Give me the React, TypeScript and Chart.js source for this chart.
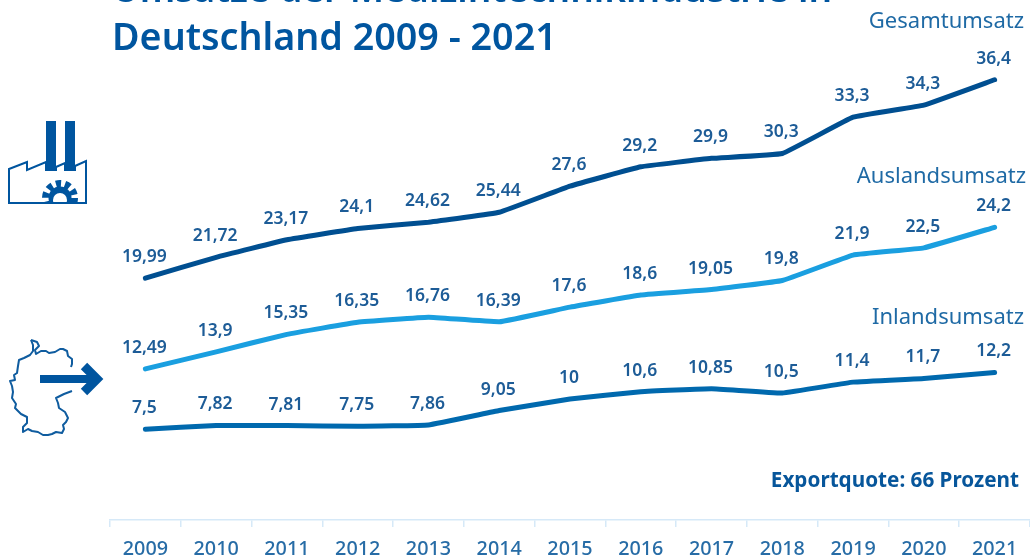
import React, { useEffect, useRef } from "react";
import { Chart, registerables } from "chart.js";

Chart.register(...registerables);

const years = ["2009", "2010", "2011", "2012", "2013", "2014", "2015", "2016", "2017", "2018", "2019", "2020", "2021"];
const gesamtumsatz = [19.99, 21.72, 23.17, 24.1, 24.62, 25.44, 27.6, 29.2, 29.9, 30.3, 33.3, 34.3, 36.4];
const auslandsumsatz = [12.49, 13.9, 15.35, 16.35, 16.76, 16.39, 17.6, 18.6, 19.05, 19.8, 21.9, 22.5, 24.2];
const inlandsumsatz = [7.5, 7.82, 7.81, 7.75, 7.86, 9.05, 10, 10.6, 10.85, 10.5, 11.4, 11.7, 12.2];

const titleLines = ["Umsätze der Medizintechnikindustrie in", "Deutschland 2009 - 2021"];
const exportNote = "Exportquote: 66 Prozent";

const NAVY = "#004f91";
const SKY = "#1a9fe0";
const MID = "#0069ae";
const TEXT = "#1d5c97";
const TITLE = "#00559f";
const FONT = "'Noto Sans', 'Open Sans', sans-serif";

const formatValue = (v: number) => String(v).replace(".", ",");

// Series names, the heading and the export note are painted on the canvas with the value labels.
const annotations = {
  id: "annotations",
  afterDatasetsDraw(chart: any) {
    const { ctx } = chart;
    ctx.save();
    ctx.textBaseline = "middle";

    ctx.textAlign = "center";
    ctx.fillStyle = TEXT;
    ctx.font = `600 17.5px ${FONT}`;
    chart.data.datasets.forEach((ds: any, i: number) => {
      chart.getDatasetMeta(i).data.forEach((pt: any, j: number) => {
        ctx.fillText(formatValue(ds.data[j]), pt.x - 1, pt.y - 21);
      });
    });

    ctx.textAlign = "right";
    ctx.font = `400 22px ${FONT}`;
    ctx.fillStyle = "#1f6aa5";
    ctx.fillText("Gesamtumsatz", 1024, 22);
    ctx.fillText("Auslandsumsatz", 1026, 177);
    ctx.fillText("Inlandsumsatz", 1024, 318);

    ctx.font = `700 20.7px ${FONT}`;
    ctx.fillStyle = "#07569b";
    ctx.fillText(exportNote, 1019, 481);

    ctx.textAlign = "left";
    ctx.fillStyle = TITLE;
    ctx.font = `600 37px ${FONT}`;
    ctx.fillText(titleLines[0], 112, -9);
    ctx.font = `600 37.7px ${FONT}`;
    ctx.fillText(titleLines[1], 112, 39);
    ctx.restore();
  },
};

// Hand-traced border of Germany, open on the eastern side where the arrow leaves the map.
const germanyNorth =
  "M31,340 L37,342 L39,346 L35,350 L36,354 L41,351 L46,351 L49,353 L55,352 L60,349 L63,349 L67,351 L68,356 L72,359 L72,364 L71,367";
const germanyRest =
  "M72,391 L64,394 L56,398 L58,403 L59,408 L65,412 L68,418 L66,422 L63,425 L64,429 L62,433 L56,432 L52,434 L48,435 L43,435 L38,432 L32,431 L28,429 L23,432 L23,427 L27,423 L27,417 L21,414 L15,408 L16,404 L12,398 L13,392 L12,386 L10,381 L15,380 L14,375 L17,373 L18,366 L19,360 L24,358 L30,355 L33,351 L33,345 L31,340";

export default function App() {
  const ref = useRef<HTMLCanvasElement>(null);

  useEffect(() => {
    const line = (label: string, data: number[], color: string) => ({
      label,
      data,
      borderColor: color,
      borderWidth: 5,
      borderCapStyle: "round" as const,
      borderJoinStyle: "round" as const,
      tension: 0.08,
      pointRadius: 0,
      clip: false,
    });

    const chart = new Chart(ref.current!, {
      type: "line",
      data: {
        labels: years,
        datasets: [
          line("Gesamtumsatz", gesamtumsatz, NAVY),
          line("Auslandsumsatz", auslandsumsatz, SKY),
          line("Inlandsumsatz", inlandsumsatz, MID),
        ],
      },
      options: {
        animation: false,
        responsive: false,
        layout: { padding: { left: 110, top: 12, right: 0, bottom: 0 } },
        plugins: { legend: { display: false }, tooltip: { enabled: false } },
        scales: {
          x: {
            offset: true,
            afterFit: (scale: any) => {
              scale.height = 39;
            },
            grid: { offset: true, drawOnChartArea: false, tickLength: 7, color: "#d6e9f8", lineWidth: 1.5 },
            border: { color: "#d6e9f8", width: 1.5 },
            ticks: { color: "#276ca6", font: { family: FONT, size: 19.8, weight: 500 }, padding: 10, maxRotation: 0, autoSkip: false },
          },
          y: { display: false, min: 0, max: 42 },
        },
      },
      plugins: [annotations],
    });
    return () => chart.destroy();
  }, []);

  return (
    <div style={{ position: "absolute", left: 0, top: 0, width: 1030, height: 559, background: "#fff", overflow: "hidden" }}>
      <canvas ref={ref} width={1030} height={559} style={{ position: "absolute", left: 0, top: 0 }} />
      <svg width={1030} height={559} style={{ position: "absolute", left: 0, top: 0, pointerEvents: "none" }}>
        {/* Factory pictogram */}
        <path
          d="M9,203 V169 L27,162 V170 L46,162 V170 H56 V167 L65,163 V170 H75 V166 L86,161 V203 Z"
          fill="none"
          stroke={TITLE}
          strokeWidth={2}
        />
        <rect x={46} y={121} width={10} height={49} fill={TITLE} />
        <rect x={65} y={121} width={10} height={49} fill={TITLE} />
        <clipPath id="gearClip">
          <rect x={40} y={178} width={40} height={24} />
        </clipPath>
        <g clipPath="url(#gearClip)">
          <circle cx={60} cy={198} r={14} fill="none" stroke={TITLE} strokeWidth={8} strokeDasharray="5 3.8" />
          <circle cx={60} cy={198} r={11.5} fill={TITLE} />
          <circle cx={60} cy={200} r={7} fill="#fff" />
        </g>
        {/* Map of Germany with an outgoing arrow */}
        <path d={germanyNorth} fill="none" stroke="#0f5c9f" strokeWidth={2} strokeLinejoin="round" />
        <path d={germanyRest} fill="none" stroke="#0f5c9f" strokeWidth={2} strokeLinejoin="round" />
        <path d="M40,379 H92" stroke={TITLE} strokeWidth={8} fill="none" />
        <path d="M84,366 L97,379 L84,392" stroke={TITLE} strokeWidth={9} fill="none" />
      </svg>
    </div>
  );
}
